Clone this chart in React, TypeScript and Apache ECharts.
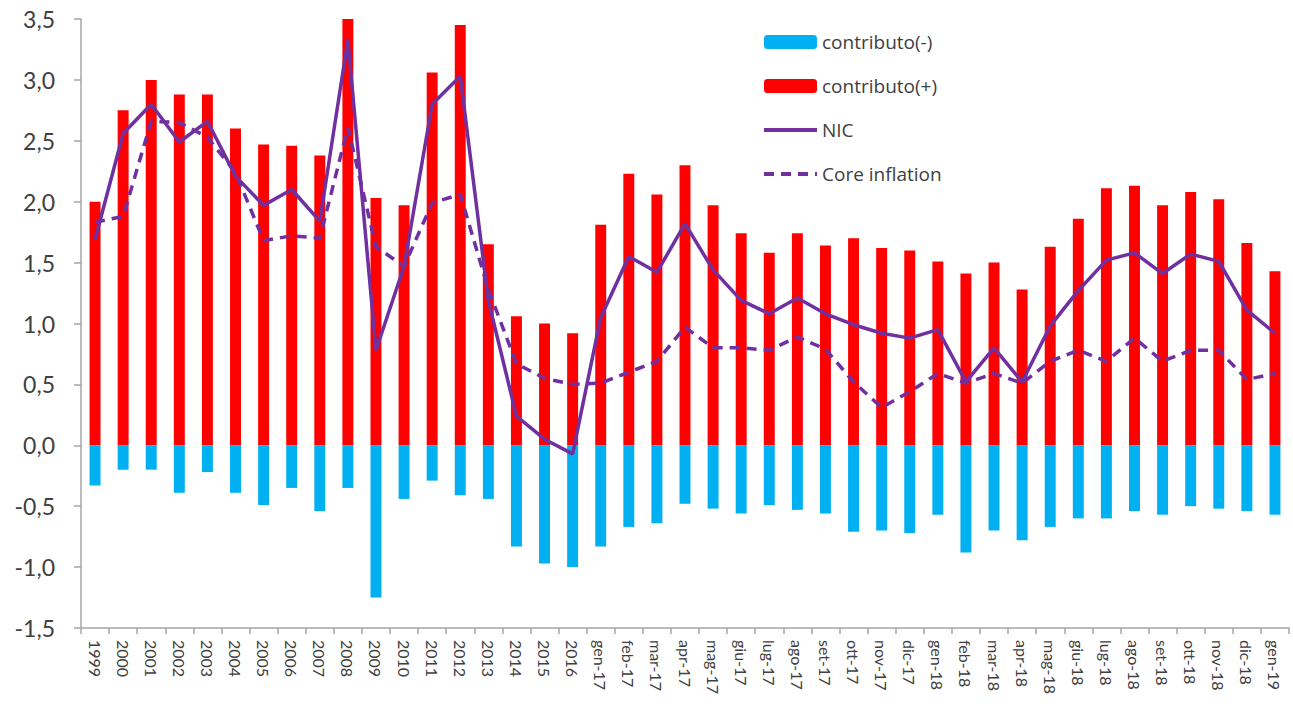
import React, { useEffect, useRef } from "react";
import * as echarts from "echarts";

const categories = [
  "1999", "2000", "2001", "2002", "2003", "2004", "2005", "2006", "2007", "2008",
  "2009", "2010", "2011", "2012", "2013", "2014", "2015", "2016",
  "gen-17", "feb-17", "mar-17", "apr-17", "mag-17", "giu-17", "lug-17", "ago-17",
  "set-17", "ott-17", "nov-17", "dic-17",
  "gen-18", "feb-18", "mar-18", "apr-18", "mag-18", "giu-18", "lug-18", "ago-18",
  "set-18", "ott-18", "nov-18", "dic-18", "gen-19",
];

const contributoNeg = [
  -0.33, -0.2, -0.2, -0.39, -0.22, -0.39, -0.49, -0.35, -0.54, -0.35,
  -1.25, -0.44, -0.29, -0.41, -0.44, -0.83, -0.97, -1.0,
  -0.83, -0.67, -0.64, -0.48, -0.52, -0.56, -0.49, -0.53,
  -0.56, -0.71, -0.7, -0.72,
  -0.57, -0.88, -0.7, -0.78, -0.67, -0.6, -0.6, -0.54,
  -0.57, -0.5, -0.52, -0.54, -0.57,
];

const contributoPos = [
  2.0, 2.75, 3.0, 2.88, 2.88, 2.6, 2.47, 2.46, 2.38, 3.5,
  2.03, 1.97, 3.06, 3.45, 1.65, 1.06, 1.0, 0.92,
  1.81, 2.23, 2.06, 2.3, 1.97, 1.74, 1.58, 1.74,
  1.64, 1.7, 1.62, 1.6,
  1.51, 1.41, 1.5, 1.28, 1.63, 1.86, 2.11, 2.13,
  1.97, 2.08, 2.02, 1.66, 1.43,
];

const nic = [
  1.69, 2.56, 2.8, 2.49, 2.66, 2.21, 1.97, 2.1, 1.84, 3.33,
  0.78, 1.47, 2.8, 3.03, 1.19, 0.24, 0.05, -0.07,
  1.05, 1.55, 1.42, 1.82, 1.44, 1.19, 1.08, 1.21,
  1.08, 0.99, 0.92, 0.88,
  0.95, 0.52, 0.8, 0.52, 0.98, 1.27, 1.52, 1.58,
  1.41, 1.57, 1.51, 1.11, 0.92,
];

const coreInflation = [
  1.83, 1.88, 2.66, 2.65, 2.53, 2.24, 1.68, 1.72, 1.7, 2.61,
  1.63, 1.47, 1.99, 2.06, 1.28, 0.67, 0.55, 0.5,
  0.51, 0.6, 0.69, 0.97, 0.8, 0.8, 0.78, 0.89,
  0.79, 0.52, 0.31, 0.44,
  0.59, 0.51, 0.59, 0.51, 0.69, 0.78, 0.69, 0.88,
  0.69, 0.78, 0.78, 0.54, 0.59,
];

const FONT = "Lato, 'Open Sans', sans-serif";
const LEGEND_FONT = "'Open Sans', Lato, sans-serif";
const TEXT_COLOR = "#404040";
const PURPLE = "#7030A0";

export default function App() {
  const ref = useRef<HTMLDivElement>(null);

  useEffect(() => {
    if (!ref.current) return;
    const chart = echarts.init(ref.current, undefined, { renderer: "svg" });
    chart.setOption({
      animation: false,
      textStyle: { fontFamily: FONT },
      grid: { left: 81, right: 4, top: 19, bottom: 76, containLabel: false },
      legend: {
        orient: "vertical",
        left: 762,
        top: 29,
        padding: 0,
        itemWidth: 53,
        itemHeight: 14,
        itemGap: 18,
        textStyle: { fontFamily: LEGEND_FONT, fontSize: 19, color: TEXT_COLOR, lineHeight: 26 },
        data: [
          { name: "contributo(-)" },
          { name: "contributo(+)" },
          { name: "NIC", itemStyle: { opacity: 0 }, lineStyle: { width: 4 } },
          { name: "Core inflation", itemStyle: { opacity: 0 }, lineStyle: { width: 4, type: [10, 7] } },
        ],
      },
      xAxis: {
        type: "category",
        data: categories,
        boundaryGap: true,
        axisLine: { onZero: false, lineStyle: { color: "#a6a6a6", width: 1.5 } },
        axisTick: { show: true, length: 6, lineStyle: { color: "#a6a6a6", width: 1.5 } },
        axisLabel: {
          interval: 0,
          rotate: -90,
          fontSize: 16,
          color: TEXT_COLOR,
          fontFamily: FONT,
          margin: 12,
        },
        splitLine: { show: false },
      },
      yAxis: {
        type: "value",
        min: -1.5,
        max: 3.5,
        interval: 0.5,
        axisLine: { show: true, lineStyle: { color: "#a6a6a6", width: 1.5 } },
        axisTick: { show: true, length: 7, lineStyle: { color: "#a6a6a6", width: 1.5 } },
        splitLine: { show: false },
        axisLabel: {
          fontSize: 23,
          color: TEXT_COLOR,
          fontFamily: FONT,
          margin: 26,
          formatter: (v: number) => v.toFixed(1).replace(".", ","),
        },
      },
      series: [
        {
          name: "contributo(-)",
          type: "bar",
          stack: "c",
          data: contributoNeg,
          barWidth: "39%",
          itemStyle: { color: "#00B0F0" },
        },
        {
          name: "contributo(+)",
          type: "bar",
          stack: "c",
          data: contributoPos,
          barWidth: "39%",
          itemStyle: { color: "#FF0000" },
        },
        {
          name: "NIC",
          type: "line",
          data: nic,
          symbol: "none",
          lineStyle: { color: PURPLE, width: 3.5 },
          itemStyle: { color: PURPLE },
        },
        {
          name: "Core inflation",
          type: "line",
          data: coreInflation,
          symbol: "none",
          lineStyle: { color: PURPLE, width: 3.5, type: [10, 7] },
          itemStyle: { color: PURPLE },
        },
      ],
    });
    return () => chart.dispose();
  }, []);

  return (
    <div
      ref={ref}
      style={{ position: "absolute", left: 0, top: 0, width: 1293, height: 704 }}
    />
  );
}
